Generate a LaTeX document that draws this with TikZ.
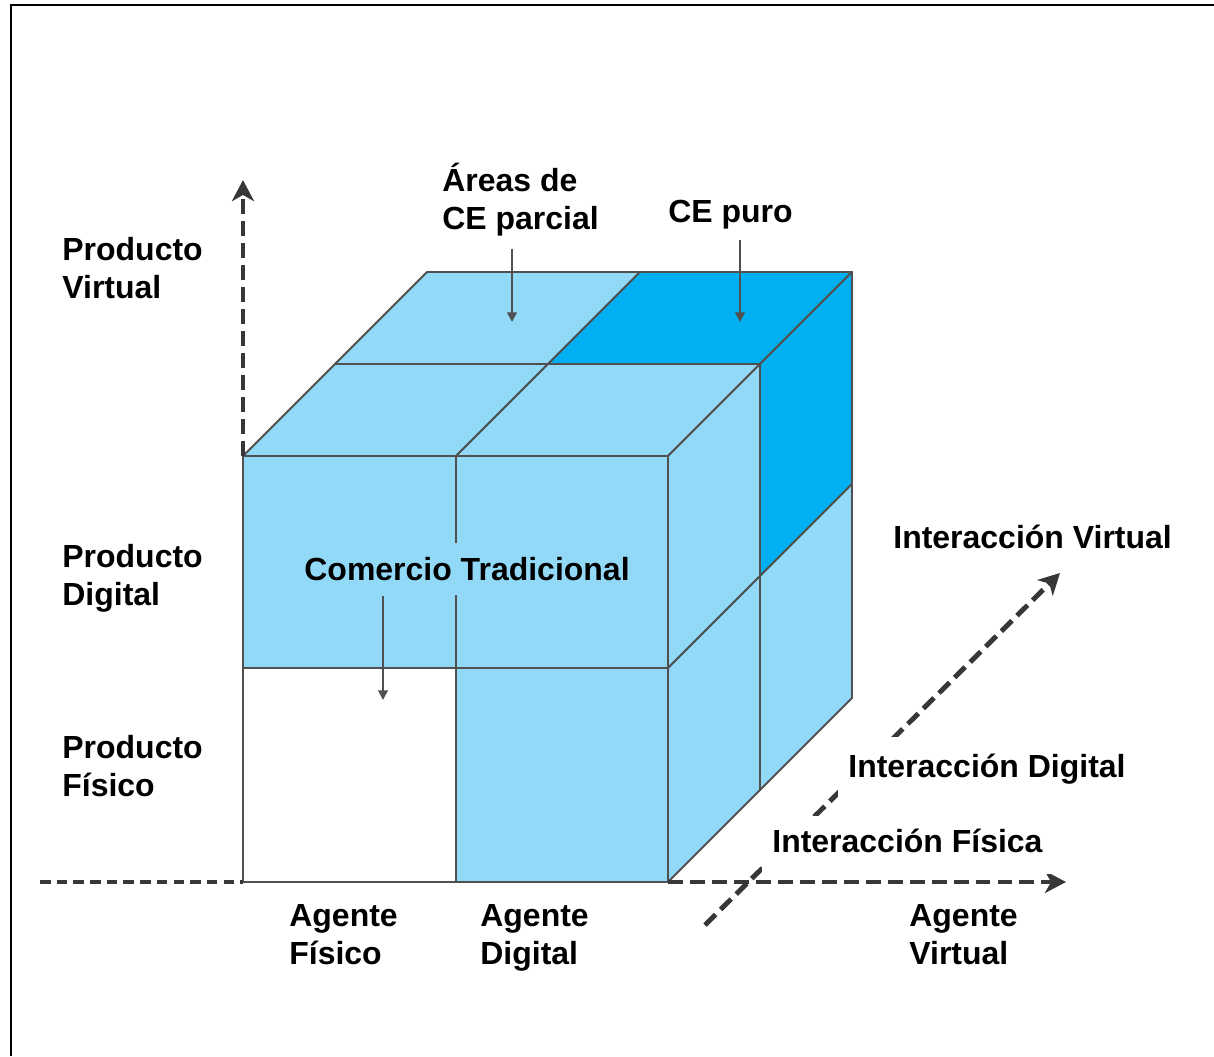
\documentclass[tikz,border=0pt]{standalone}
\usepackage{fontspec}
\setmainfont{Liberation Sans}
\usetikzlibrary{arrows.meta}

\definecolor{cubeblue}{RGB}{146,217,248}
\definecolor{pureblue}{RGB}{0,176,240}
\definecolor{edgegray}{RGB}{80,80,80}
\definecolor{axisgray}{RGB}{55,55,55}

\tikzset{
  cell/.style={fill=cubeblue, draw=edgegray, line width=1.1pt, line join=round},
  purecell/.style={cell, fill=pureblue},
  axisline/.style={draw=axisgray, line width=2.8pt, dash pattern=on 8.5pt off 4pt},
  axistip/.style={axisline, -{Stealth[length=12pt,width=12.5pt,inset=3.5pt]}},
  pointer/.style={draw=edgegray, line width=1.1pt, -{Triangle[length=5.5pt,width=5.5pt]}},
  txt/.style={font=\fontsize{18.2}{21.6}\selectfont\bfseries, align=left, inner sep=0pt, anchor=west},
  lbl/.style={txt, execute at begin node=\strut, execute at end node=\strut},
  gapbox/.style={fill=white, inner xsep=2mm},
}

\begin{document}
\begin{tikzpicture}[x=0.2mm, y=-0.2mm]
\useasboundingbox (0,0) rectangle (1214,1056);
\draw[line width=1.7pt] (11,1056) -- (11,5) -- (1214,5);

% corners of the front face
\coordinate (A) at (243,456);
\coordinate (G) at (243,882);
\coordinate (I) at (668,882);

% top of the cube
\draw[cell] (243,456) -- (456,456) -- (548,364) -- (335,364) -- cycle;
\draw[cell] (456,456) -- (668,456) -- (760,364) -- (548,364) -- cycle;
\draw[cell] (335,364) -- (548,364) -- (640,272) -- (427,272) -- cycle;
\draw[purecell] (548,364) -- (760,364) -- (852,272) -- (640,272) -- cycle;
% right side
\draw[cell] (668,456) -- (760,364) -- (760,576) -- (668,668) -- cycle;
\draw[purecell] (760,364) -- (852,272) -- (852,484) -- (760,576) -- cycle;
\draw[cell] (668,668) -- (760,576) -- (760,790) -- (668,882) -- cycle;
\draw[cell] (760,576) -- (852,484) -- (852,698) -- (760,790) -- cycle;
% front
\draw[cell] (243,456) rectangle (456,668);
\draw[cell] (456,456) rectangle (668,668);
\draw[cell] (456,668) rectangle (668,882);
\draw[cell, fill=white] (243,668) rectangle (456,882);

% axes
\coordinate (yend) at (243,180);
\coordinate (xstart) at (40,882);
\coordinate (xend) at (1066,882);
\coordinate (zstart) at (705,925);
\coordinate (zend) at (1060,573);
\draw[axistip] (A) -- (yend);
\draw[axisline, line width=2pt, dash pattern=on 6pt off 3.5pt] (xstart) -- (G);
\draw[axistip] (I) -- (xend);
\draw[axistip] (zstart) -- (zend);

% axis labels
\node[lbl] (pv) at (62,274) {Producto\\Virtual};
\node[lbl] (pd) at (62,581) {Producto\\Digital};
\node[lbl] (pf) at (62,772) {Producto\\Físico};
\node[lbl] (af) at (289,940) {Agente\\Físico};
\node[lbl] (ad) at (480,940) {Agente\\Digital};
\node[lbl] (av) at (909,940) {Agente\\Virtual};
\node[lbl] (iv) at (893,541) {Interacción Virtual};
\node[lbl, gapbox, inner ysep=2.9mm] (id) at (838,770) {Interacción Digital};
\node[lbl, gapbox, inner ysep=2mm] (ifis) at (762,845) {Interacción Física};

% areas of the cube
\node[txt] (parcial) at (442,200) {Áreas de\\CE parcial};
\node[lbl] (puro) at (668,215) {CE puro};
\node[txt, anchor=center, fill=cubeblue, inner xsep=2pt, inner ysep=2.9mm] (trad) at (467,569) {Comercio Tradicional};

\coordinate (parcialtip) at (512,322);
\coordinate (purotip) at (740,322);
\coordinate (tradtip) at (383,700);
\draw[pointer, shorten <=2.4mm] (parcial.south -| parcialtip) -- (parcialtip);
\draw[pointer, shorten <=1.2mm] (puro.south -| purotip) -- (purotip);
\draw[pointer] (trad.south -| tradtip) -- (tradtip);
\end{tikzpicture}
\end{document}
